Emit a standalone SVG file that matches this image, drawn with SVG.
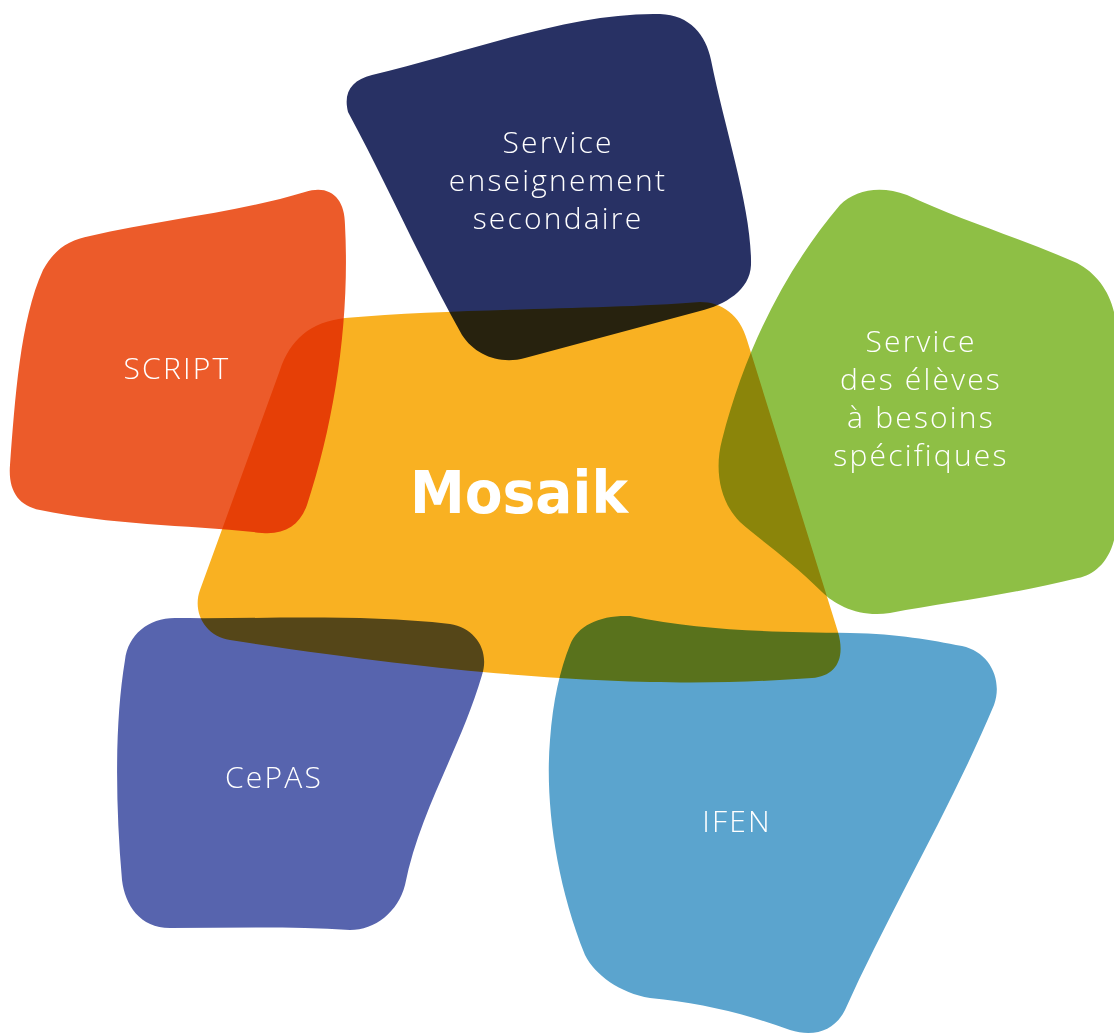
<svg xmlns="http://www.w3.org/2000/svg" width="1114" height="1036" viewBox="0 0 1114 1036">
  <style>
    .blob { mix-blend-mode: multiply; }
    .label { font-family: "Open Sans", "Lato", "Liberation Sans", sans-serif; font-weight: 300; font-size: 30px; fill: #ffffff; text-anchor: middle; letter-spacing: 2.2px; }
    .title { font-family: "DejaVu Sans", "Liberation Sans", sans-serif; font-weight: bold; font-size: 58px; fill: #ffffff; text-anchor: middle; }
  </style>
  <rect width="1114" height="1036" fill="#ffffff"/>
  <g id="blobs" style="isolation:isolate">
    <g id="node-mosaik">
      <path class="blob" fill="#F9B122" d="M 200,590 L 280,370 C 290,340 310,322 345,318 C 460,308 600,310 700,302 C 722,302 740,315 747,340 L 838,632 C 846,660 835,676 812,678 C 700,686 540,688 230,640 C 205,636 192,612 200,590 Z"/>
    </g>
    <g id="node-secondaire">
      <path class="blob" fill="#283164" d="M 348,112 C 343,92 352,80 372,75 C 470,52 570,12 660,14 C 690,15 706,35 711,60 C 725,130 752,210 751,265 C 750,290 725,305 700,311 L 525,358 C 500,365 475,355 462,335 C 420,260 390,190 348,112 Z"/>
    </g>
    <g id="node-script">
      <path class="blob" fill="#EC5B2A" d="M 43,270 C 55,248 70,240 90,236 C 160,220 240,212 305,192 C 330,184 345,198 345,225 C 350,320 335,420 307,505 C 300,525 285,535 262,533 C 190,525 110,525 40,510 C 18,506 8,490 10,465 C 15,400 20,320 43,270 Z"/>
    </g>
    <g id="node-besoins">
      <path class="blob" fill="#8EBF45" d="M 840,205 C 855,190 880,185 907,195 C 960,220 1020,238 1077,263 C 1100,275 1116,300 1116,330 L 1116,530 C 1112,560 1095,575 1078,578 C 1010,595 950,602 890,613 C 860,618 835,605 822,592 C 790,560 760,540 740,522 C 720,502 714,470 722,440 C 745,350 785,270 840,205 Z"/>
    </g>
    <g id="node-cepas">
      <path class="blob" fill="#5764AE" d="M 125,660 C 128,635 148,618 175,618 C 270,619 360,614 450,624 C 475,628 490,650 482,675 C 460,750 420,810 405,885 C 398,912 375,930 350,930 C 290,926 230,928 170,928 C 140,928 125,905 122,880 C 115,800 115,720 125,660 Z"/>
    </g>
    <g id="node-ifen">
      <path class="blob" fill="#5BA4CE" d="M 570,645 C 578,625 600,615 630,616 C 700,630 760,632 850,633 C 900,634 930,640 962,646 C 990,652 1003,680 994,705 C 950,810 890,910 845,1010 C 835,1030 815,1038 790,1030 C 740,1012 700,1003 650,998 C 620,993 595,975 585,955 C 555,880 545,800 550,740 C 553,700 560,670 570,645 Z"/>
    </g>
  </g>
  <g id="connectors"></g>
  <g id="labels">
    <text class="label" x="558" y="153">Service</text>
    <text class="label" x="558" y="191">enseignement</text>
    <text class="label" x="558" y="229">secondaire</text>
    <text class="label" x="177" y="379">SCRIPT</text>
    <text class="label" x="921" y="352">Service</text>
    <text class="label" x="921" y="390">des élèves</text>
    <text class="label" x="921" y="428">à besoins</text>
    <text class="label" x="921" y="466">spécifiques</text>
    <text class="label" x="274" y="788">CePAS</text>
    <text class="label" x="737" y="832">IFEN</text>
    <text class="title" x="519" y="513" textLength="218" lengthAdjust="spacingAndGlyphs">Mosaik</text>
  </g>
</svg>
